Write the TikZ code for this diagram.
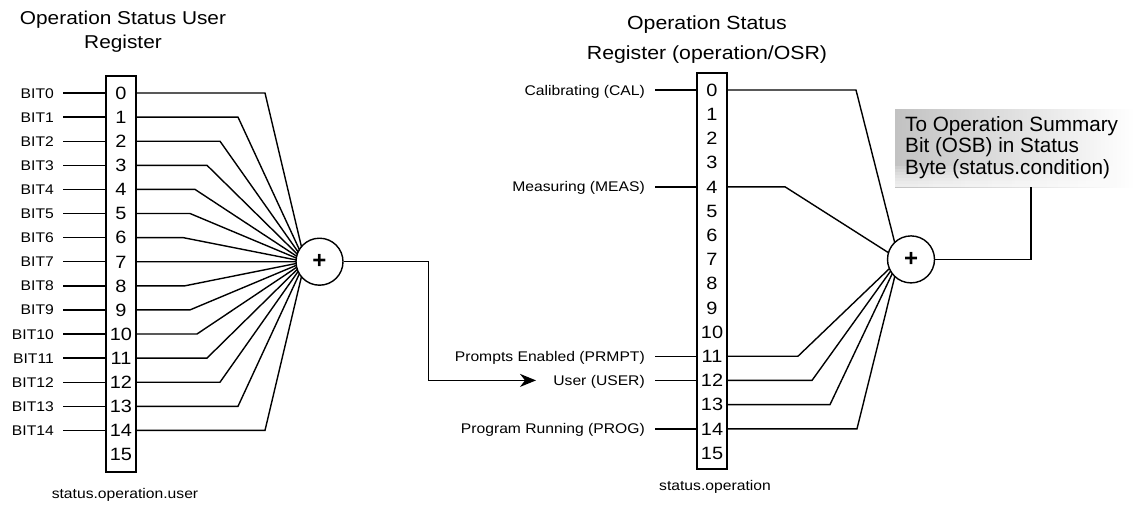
\documentclass[tikz,border=0pt]{standalone}
\usepackage{fontspec}
\setmainfont{Liberation Sans}
\newfontfamily\wide[FakeStretch=1.12]{Liberation Sans}
\usetikzlibrary{arrows.meta}
\begin{document}
\begin{tikzpicture}[x=1pt,y=-1pt,
  wire/.style={line width=1.4pt},
  reg/.style={draw,line width=1.5pt,minimum width=30pt,minimum height=396pt,inner sep=0pt},
  digit/.style={font=\wide\fontsize{17.8}{18}\selectfont,inner sep=0pt,text height=12.7pt,text depth=0pt},
  lab/.style={font=\wide\fontsize{14}{16}\selectfont,anchor=east,inner xsep=9pt,inner ysep=0pt,text height=10pt,text depth=0pt},
  title/.style={font=\wide\fontsize{18.6}{24}\selectfont,align=center},
  foot/.style={font=\wide\fontsize{14}{16}\selectfont},
  sum/.style={circle,draw,fill=white,line width=1.4pt,minimum size=47pt,inner sep=0pt,font=\fontsize{24}{24}\selectfont\bfseries}]
\useasboundingbox (0,0) rectangle (1134,506);

% ---------- left register ----------
\node[title] (t1) at (123,32) {Operation Status User\\Register};
\node[reg] (lreg) at (121,274) {};
\foreach \k in {0,...,15} \node[digit] (l\k) at (121,{93+24.1*\k}) {\k};
\foreach \k in {0,...,14} {
  \node[lab] (b\k) at (63,{93+24.1*\k}) {BIT\k};
  \draw[wire] (b\k.east) -- (b\k.east -| lreg.west);
}
\node[foot] (f1) at (125,495) {status.operation.user};

\coordinate (conv1) at (305,261.7);
\foreach \k/\bx in {0/265,1/238,2/220,3/207,4/195,5/190,6/183,8/185,9/190,10/197,11/207,12/220,13/238,14/265}
  \draw[wire] (l\k -| lreg.east) -- (\bx,{93+24.1*\k}) -- (conv1);
\draw[wire] (l7 -| lreg.east) -- (conv1);
\node[sum] (s1) at (319.5,261.7) {+};

% ---------- right register ----------
\node[title,font=\wide\fontsize{19}{30}\selectfont] (t2) at (707,40) {Operation Status\\Register (operation/OSR)};
\node[reg] (rreg) at (712,271) {};
\foreach \k in {0,...,15} \node[digit] (r\k) at (712,{90+24.2*\k}) {\k};
\foreach \k/\t in {0/Calibrating (CAL),4/Measuring (MEAS),11/Prompts Enabled (PRMPT),12/User (USER),14/Program Running (PROG)} {
  \node[lab,inner xsep=10pt] (c\k) at (655,{90+24.2*\k}) {\t};
  \draw[wire] (c\k.east) -- (c\k.east -| rreg.west);
}
\node[foot] (f2) at (715,487) {status.operation};

\coordinate (conv2) at (899,259.4);
\foreach \k/\bx in {0/856,4/785,11/798,12/812,13/830,14/857}
  \draw[wire] (r\k -| rreg.east) -- (\bx,{90+24.2*\k}) -- (conv2);
\node[sum] (s2) at (911,259.4) {+};

% ---------- link between registers ----------
\coordinate (uarrow) at (536,{90+24.2*12});
\draw[wire,-{Stealth[length=16pt,width=13pt,inset=5pt]}] (s1.east) -- ++(85,0) |- (uarrow);

% ---------- summary box ----------
\node[minimum width=239pt,minimum height=78pt,inner sep=0pt,left color=black!24,right color=white] (osbbox) at (1014.5,148) {};
\foreach \i in {1,...,7}
  \fill[white,opacity=0.17] ([yshift={3*\i pt}]osbbox.south west) rectangle (osbbox.south east);
\node[anchor=north west,align=left,inner sep=0pt,font=\fontsize{20.7}{21.5}\selectfont] (osb) at (905,116) {To Operation Summary\\Bit (OSB) in Status\\Byte (status.condition)};
\draw[wire] (s2.east) -| ([xshift=16.5pt]osbbox.south);
\end{tikzpicture}
\end{document}
